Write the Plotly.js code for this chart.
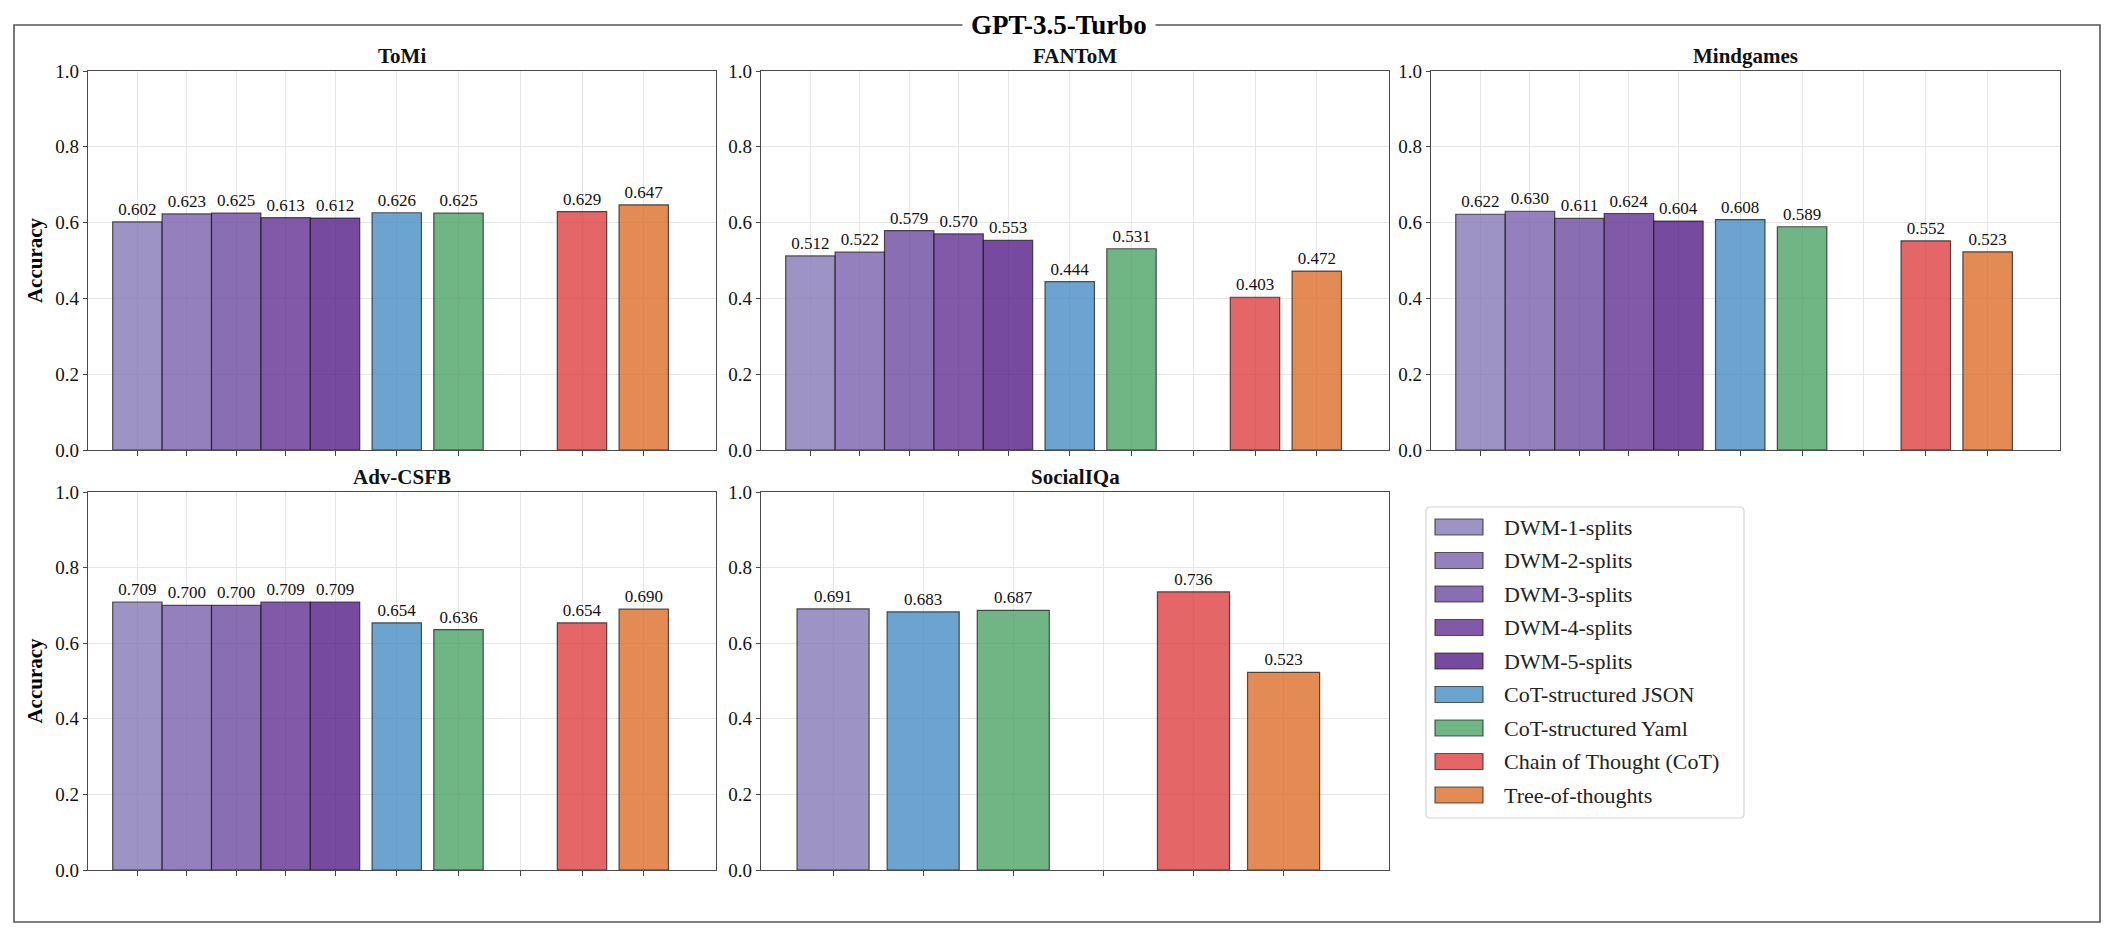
<!DOCTYPE html>
<html>
<head>
<meta charset="utf-8">
<script src="https://cdn.plot.ly/plotly-3.0.1.min.js"></script>
<style>
  html, body { margin: 0; padding: 0; background: #ffffff; }
  #chart { width: 2118px; height: 940px; }
</style>
</head>
<body>
<div id="chart"></div>
<script>
// ---------------- DATA ----------------
const figureTitle = 'GPT-3.5-Turbo';
const methods = ['DWM-1-splits', 'DWM-2-splits', 'DWM-3-splits', 'DWM-4-splits', 'DWM-5-splits',
                 'CoT-structured JSON', 'CoT-structured Yaml', 'Chain of Thought (CoT)', 'Tree-of-thoughts'];
const socialMethods = ['DWM-1-splits', 'CoT-structured JSON', 'CoT-structured Yaml',
                       'Chain of Thought (CoT)', 'Tree-of-thoughts'];

const tomi      = [0.602, 0.623, 0.625, 0.613, 0.612, 0.626, 0.625, 0.629, 0.647];
const fantom    = [0.512, 0.522, 0.579, 0.570, 0.553, 0.444, 0.531, 0.403, 0.472];
const mindgames = [0.622, 0.630, 0.611, 0.624, 0.604, 0.608, 0.589, 0.552, 0.523];
const advcsfb   = [0.709, 0.700, 0.700, 0.709, 0.709, 0.654, 0.636, 0.654, 0.690];
const socialiqa = [0.691, 0.683, 0.687, 0.736, 0.523];

const yTicks = [0.0, 0.2, 0.4, 0.6, 0.8, 1.0];
const yAxisLabel = 'Accuracy';

// ---------------- STYLE ----------------
const methodColors = {
  'DWM-1-splits': 'rgba(133,120,181,0.8)',
  'DWM-2-splits': 'rgba(120,96,171,0.8)',
  'DWM-3-splits': 'rgba(109,74,160,0.8)',
  'DWM-4-splits': 'rgba(96,48,148,0.8)',
  'DWM-5-splits': 'rgba(84,29,135,0.8)',
  'CoT-structured JSON': 'rgba(71,141,196,0.8)',
  'CoT-structured Yaml': 'rgba(75,164,101,0.8)',
  'Chain of Thought (CoT)': 'rgba(221,64,64,0.8)',
  'Tree-of-thoughts': 'rgba(221,109,41,0.8)'
};
const FONT = 'Liberation Serif, Times New Roman, Times, serif';
const W = 2118, H = 940;
const px = v => v / W;
const py = v => 1 - v / H;

const panels = [
  { name: 'ToMi',      labels: methods,       values: tomi,      col: 0, row: 0, ylabel: true },
  { name: 'FANToM',    labels: methods,       values: fantom,    col: 1, row: 0, ylabel: false },
  { name: 'Mindgames', labels: methods,       values: mindgames, col: 2, row: 0, ylabel: false },
  { name: 'Adv-CSFB',  labels: methods,       values: advcsfb,   col: 0, row: 1, ylabel: true },
  { name: 'SocialIQa', labels: socialMethods, values: socialiqa, col: 1, row: 1, ylabel: false }
];

const colPx = [[88, 716], [761, 1389], [1431, 2060]];
const rowPx = [[71, 450], [492, 870]];

// positions: DWM bars contiguous (step 0.8), others step 1, an empty slot before CoT
function positions(labels) {
  const pos = [];
  const ticks = [];
  let prev = null;
  labels.forEach((lab, i) => {
    let p;
    if (prev === null) p = 0;
    else if (lab.startsWith('DWM')) p = prev + 0.8;
    else if (lab === 'Chain of Thought (CoT)') { ticks.push(prev + 1); p = prev + 2; }
    else p = prev + 1;
    pos.push(+p.toFixed(3));
    ticks.push(+p.toFixed(3));
    prev = p;
  });
  ticks.sort((a, b) => a - b);
  return { pos, ticks };
}

const data = [];
const layout = {
  width: W, height: H,
  margin: { l: 0, r: 0, t: 0, b: 0 },
  paper_bgcolor: '#ffffff',
  plot_bgcolor: '#ffffff',
  showlegend: false,
  font: { family: FONT, color: '#000000', size: 17 },
  shapes: [],
  annotations: []
};

panels.forEach((p, i) => {
  const idx = i + 1;
  const xa = 'xaxis' + (idx === 1 ? '' : idx);
  const ya = 'yaxis' + (idx === 1 ? '' : idx);
  const { pos, ticks } = positions(p.labels);
  data.push({
    type: 'bar',
    x: pos,
    y: p.values,
    width: 0.8,
    xaxis: 'x' + (idx === 1 ? '' : idx),
    yaxis: 'y' + (idx === 1 ? '' : idx),
    marker: {
      color: p.labels.map(l => methodColors[l]),
      line: { color: 'rgba(30,30,30,0.75)', width: 1.2 }
    },
    text: p.values.map(v => v.toFixed(3)),
    textposition: 'outside',
    textfont: { family: FONT, size: 17, color: '#111111' },
    constraintext: 'none',
    cliponaxis: false,
    hoverinfo: 'skip'
  });
  const c = colPx[p.col], r = rowPx[p.row];
  layout[xa] = {
    domain: [px(c[0]), px(c[1])],
    anchor: 'y' + (idx === 1 ? '' : idx),
    range: [-0.8, pos[pos.length - 1] + 1.17],
    tickvals: ticks,
    ticktext: ticks.map(() => ''),
    ticks: 'outside', ticklen: 5, tickwidth: 1, tickcolor: '#444444',
    showgrid: true, gridcolor: '#e6e6e6', gridwidth: 1,
    showline: true, mirror: true, linecolor: '#4a4a4a', linewidth: 1.3,
    zeroline: false, fixedrange: true
  };
  layout[ya] = {
    domain: [py(r[1]), py(r[0])],
    anchor: 'x' + (idx === 1 ? '' : idx),
    range: [0, 1],
    tickvals: yTicks,
    ticktext: yTicks.map(v => v.toFixed(1)),
    tickfont: { family: FONT, size: 19, color: '#111111' },
    ticks: 'outside', ticklen: 4, tickwidth: 1, tickcolor: '#444444',
    showgrid: true, gridcolor: '#e6e6e6', gridwidth: 1,
    showline: true, mirror: true, linecolor: '#4a4a4a', linewidth: 1.3,
    zeroline: false, fixedrange: true
  };
  if (p.ylabel) {
    layout[ya].title = { text: '<b>' + yAxisLabel + '</b>', font: { family: FONT, size: 21, color: '#000000' }, standoff: 6 };
  }
  layout.annotations.push({
    xref: 'paper', yref: 'paper',
    x: (px(c[0]) + px(c[1])) / 2, y: py(r[0]),
    xanchor: 'center', yanchor: 'middle', yshift: 15,
    text: '<b>' + p.name + '</b>', showarrow: false,
    font: { family: FONT, size: 21, color: '#111111' }
  });
});

// outer frame
layout.shapes.push({
  type: 'rect', xref: 'paper', yref: 'paper',
  x0: px(14), x1: px(2100), y0: py(922), y1: py(25),
  line: { color: '#555555', width: 1.6 }, fillcolor: 'rgba(0,0,0,0)', layer: 'below'
});
// figure title sitting on the frame line
layout.annotations.push({
  xref: 'paper', yref: 'paper', x: px(1059), y: py(25),
  xanchor: 'center', yanchor: 'middle',
  text: '<b>' + figureTitle + '</b>', showarrow: false,
  bgcolor: '#ffffff', borderpad: 8,
  font: { family: FONT, size: 27, color: '#000000' }
});

// legend box (rounded)
(function () {
  const L = 1426, R = 1744, T = 507, B = 818, rr = 4;
  const X = v => px(v).toFixed(5), Y = v => py(v).toFixed(5);
  const path = `M${X(L + rr)},${Y(T)} L${X(R - rr)},${Y(T)} Q${X(R)},${Y(T)} ${X(R)},${Y(T + rr)} ` +
               `L${X(R)},${Y(B - rr)} Q${X(R)},${Y(B)} ${X(R - rr)},${Y(B)} L${X(L + rr)},${Y(B)} ` +
               `Q${X(L)},${Y(B)} ${X(L)},${Y(B - rr)} L${X(L)},${Y(T + rr)} Q${X(L)},${Y(T)} ${X(L + rr)},${Y(T)} Z`;
  layout.shapes.push({
    type: 'path', xref: 'paper', yref: 'paper', path: path,
    line: { color: '#d4d4d4', width: 1.2 }, fillcolor: 'rgba(255,255,255,0.9)'
  });
  methods.forEach((m, i) => {
    const cy = 527 + i * 33.5;
    layout.shapes.push({
      type: 'rect', xref: 'paper', yref: 'paper',
      x0: px(1435), x1: px(1483), y0: py(cy + 8), y1: py(cy - 8),
      fillcolor: methodColors[m], line: { color: 'rgba(30,30,30,0.7)', width: 1.2 }
    });
    layout.annotations.push({
      xref: 'paper', yref: 'paper', x: px(1502), y: py(cy),
      xanchor: 'left', yanchor: 'middle', text: m, showarrow: false,
      font: { family: FONT, size: 22, color: '#222222' }
    });
  });
})();

Plotly.newPlot('chart', data, layout, { staticPlot: true, displayModeBar: false });
</script>
</body>
</html>
